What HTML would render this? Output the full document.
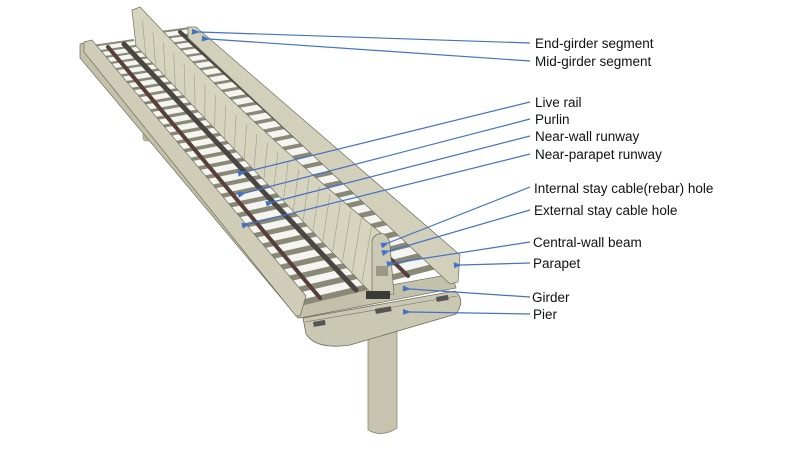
<!DOCTYPE html>
<html><head><meta charset="utf-8"><style>
html,body{margin:0;padding:0;background:#fff;width:803px;height:452px;overflow:hidden}
svg{display:block}
text{font-family:"Liberation Sans",sans-serif;font-size:13.5px;fill:#111}
</style></head><body>
<svg id="s" width="803" height="452" viewBox="0 0 803 452" xmlns="http://www.w3.org/2000/svg">
<defs>
<marker id="a" markerWidth="7" markerHeight="5" refX="1" refY="2.5" orient="auto-start-reverse"><path d="M7,0 L0,2.5 L7,5 z" fill="#4472c4"/></marker>
</defs>
<rect x="143" y="118" width="13" height="23" rx="3" fill="#bdbba4" stroke="#8d8b78" stroke-width="0.6"/>
<path d="M368,330 L397,326 L397,428 Q382,438 368,430 Z" fill="#c6c4ae" stroke="#8d8b78" stroke-width="0.8"/>
<path d="M303,318 L455,291 Q466,300 456,314 L350,345 Q316,350 306,334 Z" fill="#cac8b2" stroke="#6f6d5e" stroke-width="0.8"/>
<line x1="305" y1="322" x2="457" y2="296" stroke="#6f6d5e" stroke-width="0.6"/>
<rect x="313" y="322" width="12" height="5" fill="#555" transform="rotate(-10 313 322)"/>
<rect x="375" y="309" width="16" height="5" fill="#555" transform="rotate(-10 375 309)"/>
<rect x="436" y="297" width="12" height="5" fill="#555" transform="rotate(-10 436 297)"/>
<polygon points="80,44 88,42 308,300 452,274 456,288 300,318 298,318 80,58" fill="#c3c1aa" stroke="#6f6d5e" stroke-width="0.7"/>
<polygon points="92,46 134,40 372,286 300,303" fill="#f4f4f0"/>
<g id="ls"></g>
<polygon points="146,34 190,28 452,262 386,279" fill="#f4f4f0"/>
<g id="rs"></g>
<g stroke-linecap="round">
<line x1="108" y1="47" x2="320" y2="298" stroke="#4a4642" stroke-width="4"/>
<line x1="108" y1="47" x2="320" y2="298" stroke="#8a2a22" stroke-width="0.8"/>
<line x1="124" y1="44" x2="356" y2="290" stroke="#4a4642" stroke-width="5"/>
<line x1="160" y1="34" x2="408" y2="276" stroke="#4a4642" stroke-width="4"/>
<line x1="160" y1="34" x2="408" y2="276" stroke="#8a2a22" stroke-width="0.8"/>
<line x1="180" y1="32" x2="440" y2="268" stroke="#4a4642" stroke-width="4"/>
</g>
<polygon points="84,42 92,40 306,296 300,316 296,316 84,52" fill="#cfcdb7" stroke="#6f6d5e" stroke-width="0.7"/>
<polygon points="188,27 196,27 460,255 458,282 450,284 188,38" fill="#d2d0ba" stroke="#6f6d5e" stroke-width="0.7"/>
<path d="M132,10 L140,7 Q250,125 382,234 L372,292 L370,292 L136,46 Z" fill="#d6d4bf" stroke="#6f6d5e" stroke-width="0.7"/>
<g id="wl" stroke="#9d9b88" stroke-width="0.6"></g>
<path d="M372,240 Q376,232 384,234 Q390,238 390,246 L394,294 L372,296 Z" fill="#cbc9b3" stroke="#6f6d5e" stroke-width="0.7"/>
<rect x="376" y="266" width="12" height="10" fill="#9a9884"/>
<rect x="366" y="291" width="24" height="8" fill="#3c3a36"/>
<g stroke="#4472c4" stroke-width="1.2" fill="none" marker-start="url(#a)">
<line x1="199" y1="32" x2="530" y2="43"/>
<line x1="209" y1="39" x2="530" y2="61"/>
<line x1="245" y1="172" x2="530" y2="102"/>
<line x1="245" y1="193" x2="530" y2="119"/>
<line x1="273" y1="202" x2="530" y2="136"/>
<line x1="249" y1="224" x2="530" y2="154"/>
<line x1="388" y1="243" x2="530" y2="187"/>
<line x1="389" y1="251" x2="530" y2="210"/>
<line x1="394" y1="263" x2="530" y2="242"/>
<line x1="461" y1="265" x2="530" y2="263"/>
<line x1="410" y1="289" x2="530" y2="297"/>
<line x1="410" y1="312" x2="530" y2="314"/>
</g>
<text x="535" y="48">End-girder segment</text>
<text x="535" y="66">Mid-girder segment</text>
<text x="535" y="107">Live rail</text>
<text x="535" y="124">Purlin</text>
<text x="535" y="141">Near-wall runway</text>
<text x="535" y="159">Near-parapet runway</text>
<text x="534" y="193">Internal stay cable(rebar) hole</text>
<text x="534" y="215">External stay cable hole</text>
<text x="533" y="247">Central-wall beam</text>
<text x="533" y="268">Parapet</text>
<text x="532" y="302">Girder</text>
<text x="533" y="319">Pier</text>
</svg>
<script>
function slats(id,a0,b0,a1,b1,n){var g=document.getElementById(id),h='';for(var i=0;i<=n;i++){var t=i/n;t=t*t*0.35+t*0.65;var ax=a0[0]+(a1[0]-a0[0])*t,ay=a0[1]+(a1[1]-a0[1])*t,bx=b0[0]+(b1[0]-b0[0])*t,by=b0[1]+(b1[1]-b0[1])*t;var w=2+4*t;h+='<line x1="'+ax+'" y1="'+ay+'" x2="'+bx+'" y2="'+by+'" stroke="#8a8877" stroke-width="'+w+'"/>';}g.innerHTML=h;}
slats('ls',[92,46],[134,40],[300,303],[372,286],30);
slats('rs',[146,34],[190,28],[386,279],[452,262],28);
var g=document.getElementById('wl'),h='';for(var i=1;i<24;i++){var t=i/24;var x1=132+(382-132)*t,y1=10+(234-10)*t+12*Math.sin(Math.PI*t),x2=136+(372-136)*t,y2=46+(292-46)*t;h+='<line x1="'+x1+'" y1="'+y1+'" x2="'+x2+'" y2="'+y2+'"/>';}g.innerHTML=h;
</script>
</body></html>
